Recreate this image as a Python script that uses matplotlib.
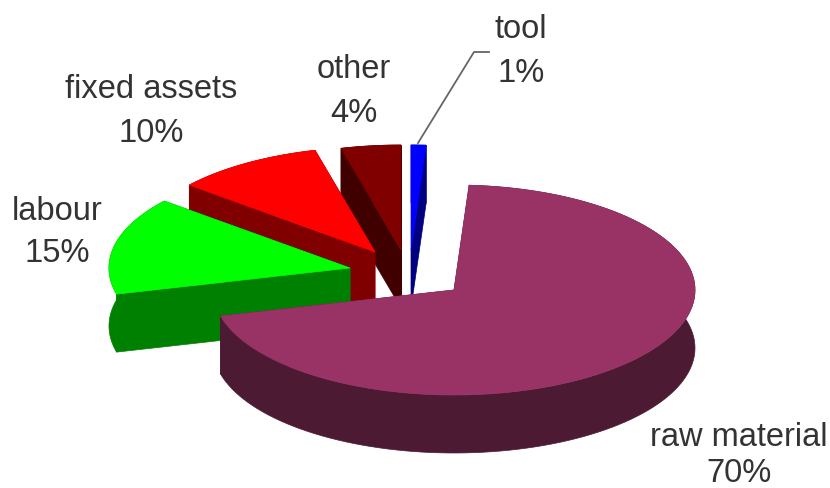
import numpy as np
import matplotlib
matplotlib.use('Agg')
import matplotlib.pyplot as plt
from matplotlib.patches import Polygon

labels = ['raw material', 'labour', 'fixed assets', 'other', 'tool']
shares = [70, 15, 10, 4, 1]

top_colors = ['#993366', '#00ff00', '#ff0000', '#800000', '#0000ff']
wall_colors = ['#4d1a33', '#008000', '#800000', '#400000', '#000080']

# apex of each slice on the page, after the explode
apex_x = [454, 350, 375, 401, 411]
apex_y = [290, 268, 252, 250, 250]
label_x = [739, 57, 151, 354, 521]
label_y = [437, 211, 90, 69, 30]
pct_y = [474, 254, 134, 113, 74]

rx, ry = 241, 105
depth = 58
start = 3.6

plt.rcParams['font.family'] = ['Liberation Sans', 'DejaVu Sans']
fig = plt.figure(figsize=(8.3, 4.88), dpi=100)
ax = fig.add_axes([0, 0, 1, 1])
ax.set_xlim(0, 830)
ax.set_ylim(488, 0)
ax.axis('off')

edges = start + np.cumsum([0] + shares) * 3.6

# back slices first, raw material goes on top of all
for i in [4, 3, 2, 1, 0]:
    a = np.radians(np.linspace(edges[i], edges[i + 1], 120))
    x = apex_x[i] + rx * np.sin(a)
    y = apex_y[i] - ry * np.cos(a)
    cx, cy = apex_x[i], apex_y[i]
    wc = wall_colors[i]
    for ex, ey in [(x[0], y[0]), (x[-1], y[-1])]:
        ax.add_patch(Polygon([(cx, cy), (ex, ey), (ex, ey + depth), (cx, cy + depth)],
                             fc=wc, ec=wc, lw=0.5, zorder=5 - i))
    rim = np.r_[np.c_[x, y], np.c_[x, y + depth][::-1]]
    ax.add_patch(Polygon(rim, fc=wc, ec=wc, lw=0.5, zorder=5 - i))
    top = np.r_[[[cx, cy]], np.c_[x, y]]
    ax.add_patch(Polygon(top, fc=top_colors[i], ec=top_colors[i], lw=0.5, zorder=5 - i))

for i in range(len(labels)):
    ax.text(label_x[i], label_y[i], labels[i], ha='center', va='center', fontsize=23.5, color='#333333')
    ax.text(label_x[i], pct_y[i], '%d%%' % shares[i], ha='center', va='center',
            fontsize=23.5, color='#333333')

# leader line to the tool label
ax.plot([418, 474, 489], [143, 52, 52], color='#666666', lw=1.3, zorder=6)

fig.savefig('out.png', dpi=100)
